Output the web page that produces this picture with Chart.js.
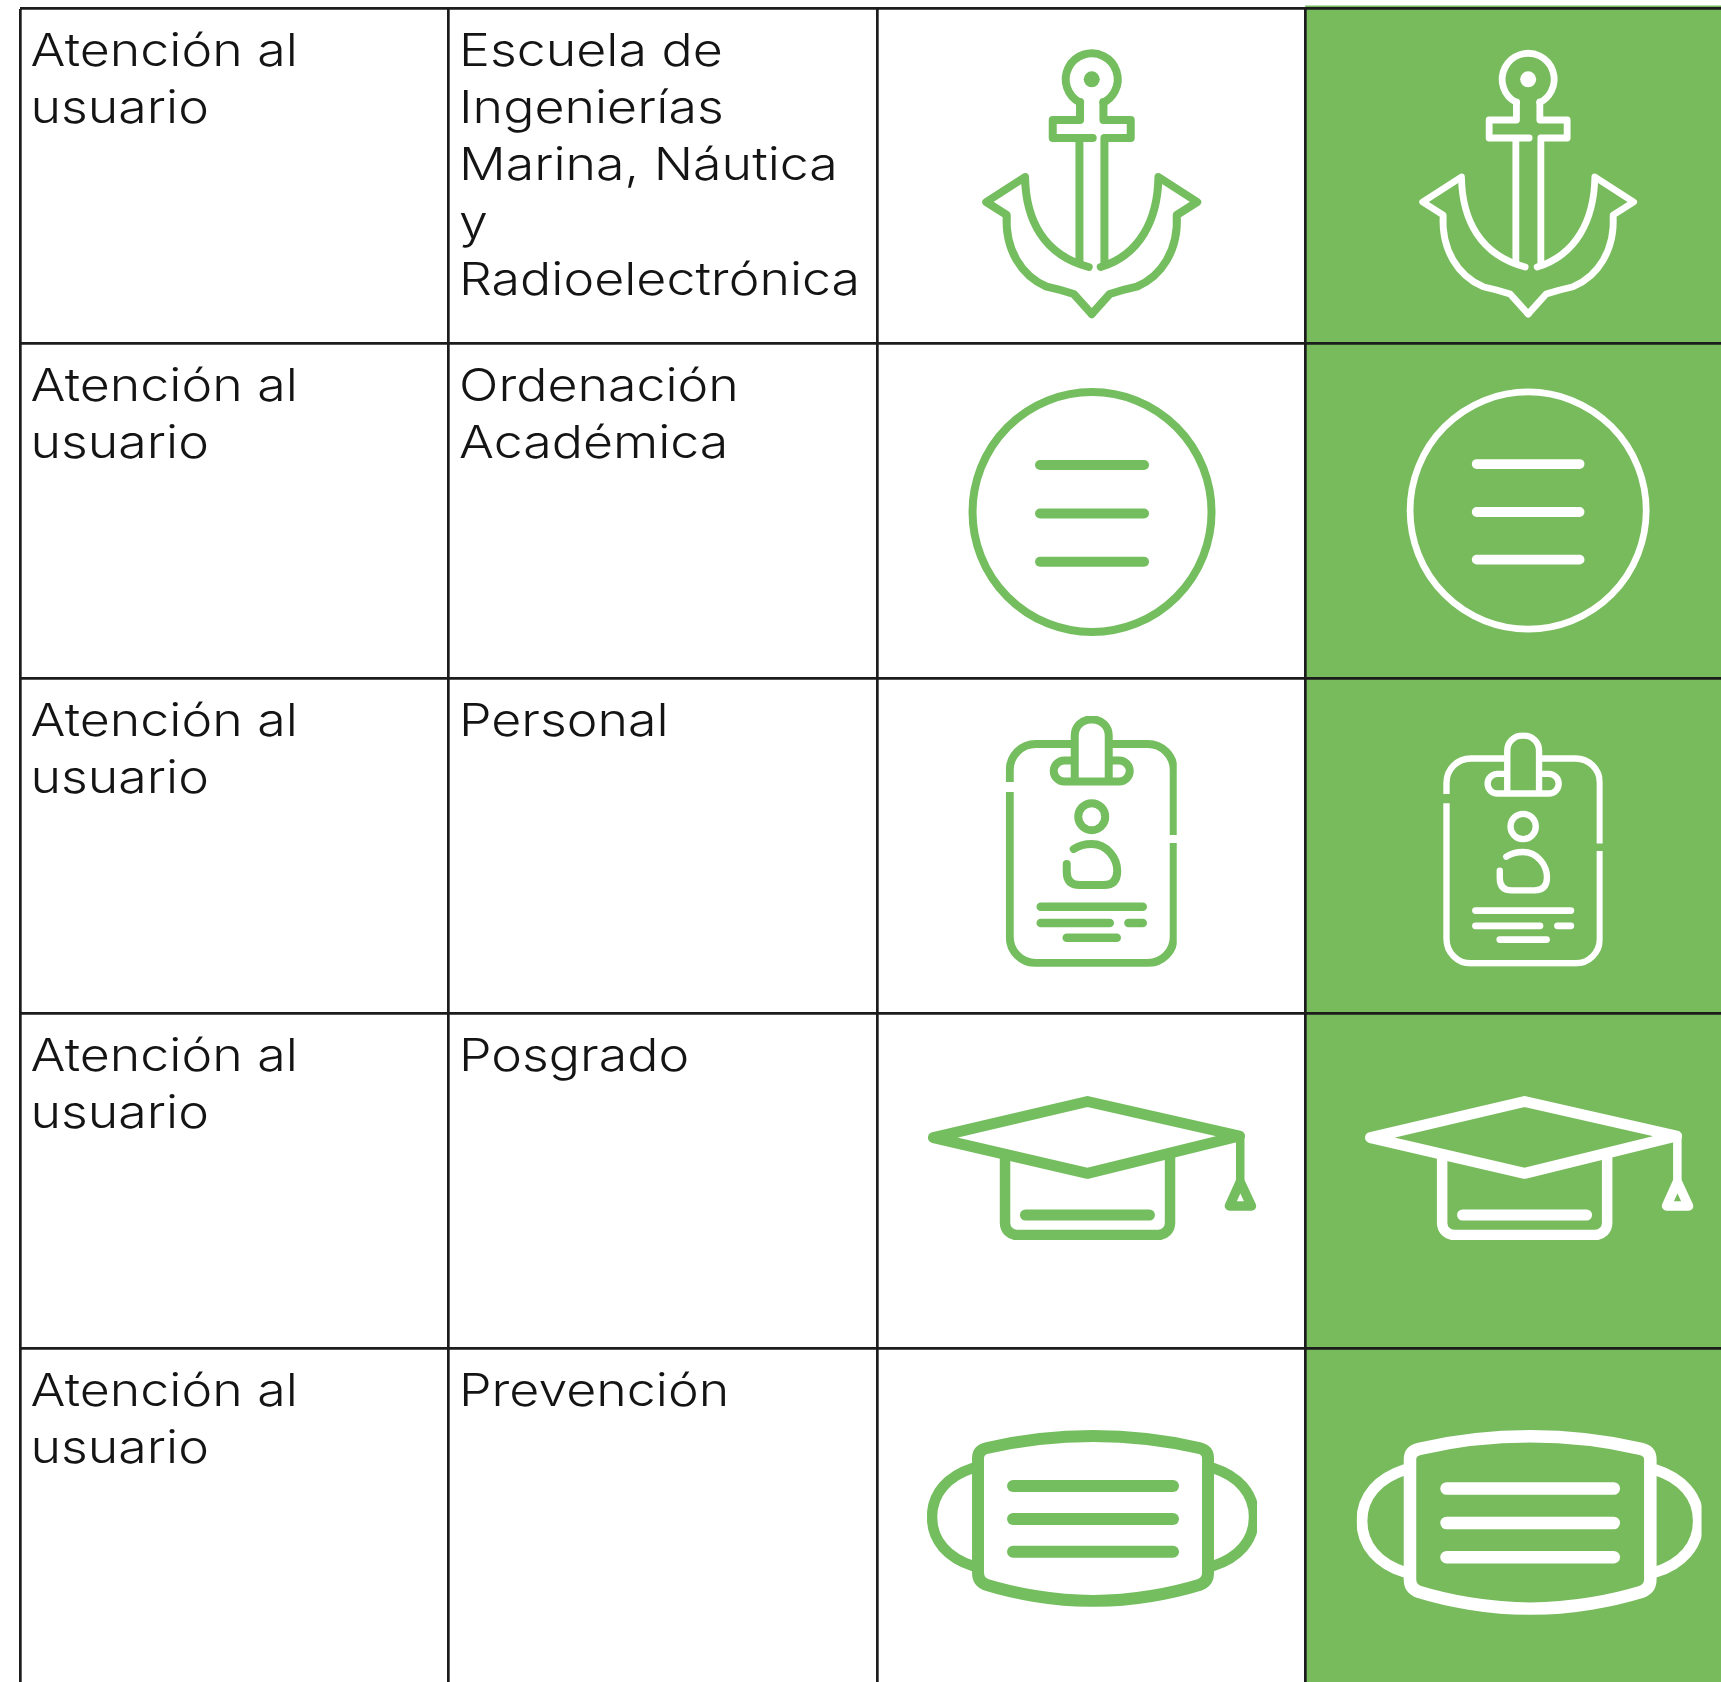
<!DOCTYPE html>
<html lang="es">
<head>
<meta charset="utf-8">
<title>Atención al usuario</title>
<style>html,body{margin:0;padding:0;background:#fff}canvas{display:block}</style>
<script src="https://cdn.jsdelivr.net/npm/chart.js@4/dist/chart.umd.js"></script>
</head>
<body>
<canvas id="c" width="1721" height="1682"></canvas>
<script>
// ---- table content ----
const firstColumn = [
  ["Atención al", "usuario"],
  ["Atención al", "usuario"],
  ["Atención al", "usuario"],
  ["Atención al", "usuario"],
  ["Atención al", "usuario"]
];
const secondColumn = [
  ["Escuela de", "Ingenierías", "Marina, Náutica", "y", "Radioelectrónica"],
  ["Ordenación", "Académica"],
  ["Personal"],
  ["Posgrado"],
  ["Prevención"]
];
const iconNames = ["anchor", "circle", "badge", "cap", "mask"];
const columnTicks = [0, 1, 2, 3, 4];
const rowTicks = [0, 1, 2, 3, 4, 5];
const greenRows = [-0.5, 0.5, 1.5, 2.5, 3.5, 4.5];
const greenColumn = [3, 4];

// ---- styling ----
const GREEN_BG = "#78BB5D", GREEN_ICON = "#74BE5F", LINE = "#1c1c1c", INK = "#141414";
const TEXT_FONT = '350 45.5px Inter', TEXT_STRETCH = 1.14, LINE_STEP = 57.4, BASELINE = 57, PAD = 10.5;
// placement of each icon inside its cell: [dx, dy, scale, line weight]
const placeLeft = {anchor:[214.7,41.5,1,1], circle:[215,45.5,1,1], badge:[214.7,37.5,1,1], cap:[210.4,82.5,1,1], mask:[216,81.5,1,1]};
const placeRight = {anchor:[222.6,41.5,1,.85], circle:[222.6,45.5,.988,.85], badge:[217.6,53.8,.935,.85], cap:[219,82.5,1,1], mask:[224.6,81.5,1.045,1]};

function line(ctx, x1, y1, x2, y2){ ctx.beginPath(); ctx.moveTo(x1,y1); ctx.lineTo(x2,y2); ctx.stroke(); }
function clipBox(ctx, x, y, w, h){ ctx.beginPath(); ctx.rect(x,y,w,h); ctx.clip(); }
const DEG = Math.PI / 180;

const icons = {
  anchor(ctx, k){
    ctx.lineWidth = 8*k;
    ctx.beginPath(); ctx.arc(0,29.3,26,116.7*DEG,63.3*DEG); ctx.stroke();
    ctx.beginPath(); ctx.arc(0,29.3,8,0,Math.PI*2); ctx.fill();
    ctx.beginPath();
    ctx.moveTo(-11.7,52); ctx.lineTo(-11.7,70); ctx.lineTo(-39,70); ctx.lineTo(-39,88); ctx.lineTo(1,88);
    ctx.moveTo(-12.3,88); ctx.lineTo(-12.3,213);
    ctx.moveTo(11.7,52); ctx.lineTo(11.7,70); ctx.lineTo(39,70); ctx.lineTo(39,88); ctx.lineTo(12.7,88); ctx.lineTo(12.7,215);
    ctx.stroke();
    [[-1,-3],[1,9]].forEach(([s, end]) => {
      ctx.beginPath();
      ctx.moveTo(end,217);
      ctx.bezierCurveTo(s*48,205,s*66,170,s*66.7,127);
      ctx.lineTo(s*105.5,152); ctx.lineTo(s*85,165);
      ctx.bezierCurveTo(s*87,200,s*70,226,s*45,236.7);
      ctx.quadraticCurveTo(s*30,240,s*18,244);
      ctx.lineTo(0,264);
      ctx.stroke();
    });
  },
  circle(ctx, k){
    ctx.lineWidth = 8*k;
    ctx.beginPath(); ctx.ellipse(0,123,119.5,120,0,0,Math.PI*2); ctx.stroke();
    ctx.lineWidth = 10;
    for (const v of [76,124.5,172.7]) line(ctx,-52,v,52,v);
  },
  badge(ctx, k){
    clipBox(ctx,-86,0,171,250.7);
    ctx.lineWidth = 8*k;
    ctx.lineCap = "butt";
    ctx.beginPath();
    ctx.moveTo(-82,66); ctx.lineTo(-82,54); ctx.arcTo(-82,28,-56,28,26); ctx.lineTo(-20,28);
    ctx.moveTo(20,28); ctx.lineTo(56,28); ctx.arcTo(82,28,82,54,26); ctx.lineTo(82,119);
    ctx.moveTo(82,127); ctx.lineTo(82,221); ctx.arcTo(82,247,56,247,26); ctx.lineTo(-56,247);
    ctx.arcTo(-82,247,-82,221,26); ctx.lineTo(-82,76);
    ctx.stroke();
    ctx.lineCap = "round";
    ctx.beginPath();
    ctx.moveTo(-17,65); ctx.lineTo(-17,20); ctx.arcTo(-17,3.5,0,3.5,16); ctx.arcTo(17,3.5,17,20,16); ctx.lineTo(17,65);
    ctx.moveTo(-17,44.5); ctx.lineTo(-27.5,44.5); ctx.arcTo(-38,44.5,-38,55,10.5); ctx.arcTo(-38,65.5,-27.5,65.5,10.5); ctx.lineTo(27.5,65.5);
    ctx.arcTo(38,65.5,38,55,10.5); ctx.arcTo(38,44.5,27.5,44.5,10.5); ctx.lineTo(17,44.5);
    ctx.stroke();
    ctx.beginPath(); ctx.arc(0,100.7,13.5,0,Math.PI*2); ctx.stroke();
    ctx.beginPath();
    ctx.moveTo(-18,133); ctx.bezierCurveTo(-12,129,-6,128,0,128); ctx.bezierCurveTo(15,128,25.5,142,25.5,155);
    ctx.quadraticCurveTo(25.5,169,12,169); ctx.lineTo(-12,169);
    ctx.quadraticCurveTo(-25,169,-25,156); ctx.lineTo(-25,148);
    ctx.stroke();
    ctx.lineWidth = 8.5*k;
    line(ctx,-51,190.7,51,190.7); line(ctx,-51,207,18,207); line(ctx,36.7,207,51,207); line(ctx,-25,221.7,25,221.7);
  },
  cap(ctx){
    clipBox(ctx,-165,0,335,144);
    ctx.lineWidth = 11;
    ctx.beginPath(); ctx.moveTo(-154,41.7); ctx.lineTo(0,5.5); ctx.lineTo(152,40); ctx.lineTo(0,77.3); ctx.closePath(); ctx.stroke();
    ctx.lineWidth = 10.5;
    ctx.beginPath(); ctx.moveTo(-82.4,60); ctx.lineTo(-82.4,127); ctx.arcTo(-82.4,139,-70,139,12); ctx.lineTo(70,139);
    ctx.arcTo(82.6,139,82.6,127,12); ctx.lineTo(82.6,60); ctx.stroke();
    ctx.lineWidth = 11; line(ctx,-62,119,62,119);
    ctx.lineWidth = 8.5; ctx.lineCap = "butt"; line(ctx,152.8,38,152.8,84); ctx.lineCap = "round";
    ctx.lineWidth = 9.5; ctx.beginPath(); ctx.moveTo(152.8,86); ctx.lineTo(164,110); ctx.lineTo(142,110); ctx.closePath(); ctx.stroke();
  },
  mask(ctx){
    clipBox(ctx,-166,0,330,176.7);
    ctx.lineWidth = 12;
    ctx.beginPath();
    ctx.moveTo(-115,35); ctx.lineTo(-115,28); ctx.quadraticCurveTo(-115,20,-106,18);
    ctx.bezierCurveTo(-80,12,-40,6,0,6); ctx.bezierCurveTo(40,6,80,12,106,18);
    ctx.quadraticCurveTo(115,20,115,28); ctx.lineTo(115,143); ctx.quadraticCurveTo(115,152,106,155);
    ctx.bezierCurveTo(80,163,40,171,0,171); ctx.bezierCurveTo(-40,171,-80,163,-106,155);
    ctx.quadraticCurveTo(-115,152,-115,143); ctx.closePath(); ctx.stroke();
    ctx.lineWidth = 10.5;
    for (const s of [-1,1]) {
      ctx.beginPath(); ctx.moveTo(s*120,38);
      ctx.bezierCurveTo(s*145,46,s*161,63,s*161,87); ctx.bezierCurveTo(s*161,111,s*145,128,s*120,136);
      ctx.stroke();
    }
    ctx.lineWidth = 12;
    for (const v of [56,89,121.7]) line(ctx,-80,v,80,v);
  }
};

const tablePlugin = {
  id: "tableContent",
  afterDatasetsDraw(chart) {
    const {ctx, scales:{x, y}} = chart;
    const cx = i => x.getPixelForValue(i), cy = i => y.getPixelForValue(i);
    [firstColumn, secondColumn].forEach((col, c) => col.forEach((lines, r) => lines.forEach((t, i) => {
      ctx.save();
      ctx.font = TEXT_FONT; ctx.fillStyle = INK; ctx.textBaseline = "alphabetic"; ctx.textAlign = "left";
      ctx.translate(cx(c) + PAD, cy(r) + BASELINE + i * LINE_STEP);
      ctx.scale(TEXT_STRETCH, 1);
      ctx.fillText(t, 0, 0);
      ctx.restore();
    })));
    iconNames.forEach((name, r) => {
      [[2, placeLeft, GREEN_ICON], [3, placeRight, "#ffffff"]].forEach(([c, place, color]) => {
        const [dx, dy, s, k] = place[name];
        ctx.save();
        ctx.translate(cx(c) + dx, cy(r) + dy);
        ctx.scale(s, s);
        ctx.strokeStyle = color; ctx.fillStyle = color;
        ctx.lineCap = "round"; ctx.lineJoin = "round";
        icons[name](ctx, k);
        ctx.restore();
      });
    });
  }
};

new Chart(document.getElementById("c"), {
  type: "bar",
  plugins: [tablePlugin],
  data: {
    datasets: [{
      data: greenRows.map(r => ({x: greenColumn, y: r})),
      backgroundColor: GREEN_BG,
      borderWidth: 0,
      barPercentage: 1,
      categoryPercentage: 1,
      clip: {left: 0, top: 3, right: 0, bottom: 0}
    }]
  },
  options: {
    indexAxis: "y",
    responsive: false,
    animation: false,
    events: [],
    layout: {padding: {left: 20, top: 8.5, right: 0, bottom: 0}},
    plugins: {legend: {display: false}, tooltip: {enabled: false}, title: {display: false}},
    scales: {
      x: {
        type: "linear", position: "top", min: 0, max: 3.9695, offset: false,
        afterBuildTicks(s){ s.ticks = columnTicks.map(value => ({value})); },
        ticks: {display: false},
        border: {display: false},
        grid: {color: LINE, lineWidth: 2.7, drawTicks: false, z: 1, offset: false}
      },
      y: {
        type: "linear", reverse: true, min: 0, max: 4.9955, offset: false,
        afterBuildTicks(s){ s.ticks = rowTicks.map(value => ({value})); },
        ticks: {display: false},
        border: {display: false},
        grid: {color: LINE, lineWidth: 2.7, drawTicks: false, z: 1, offset: false}
      }
    }
  }
});
</script>
</body>
</html>
